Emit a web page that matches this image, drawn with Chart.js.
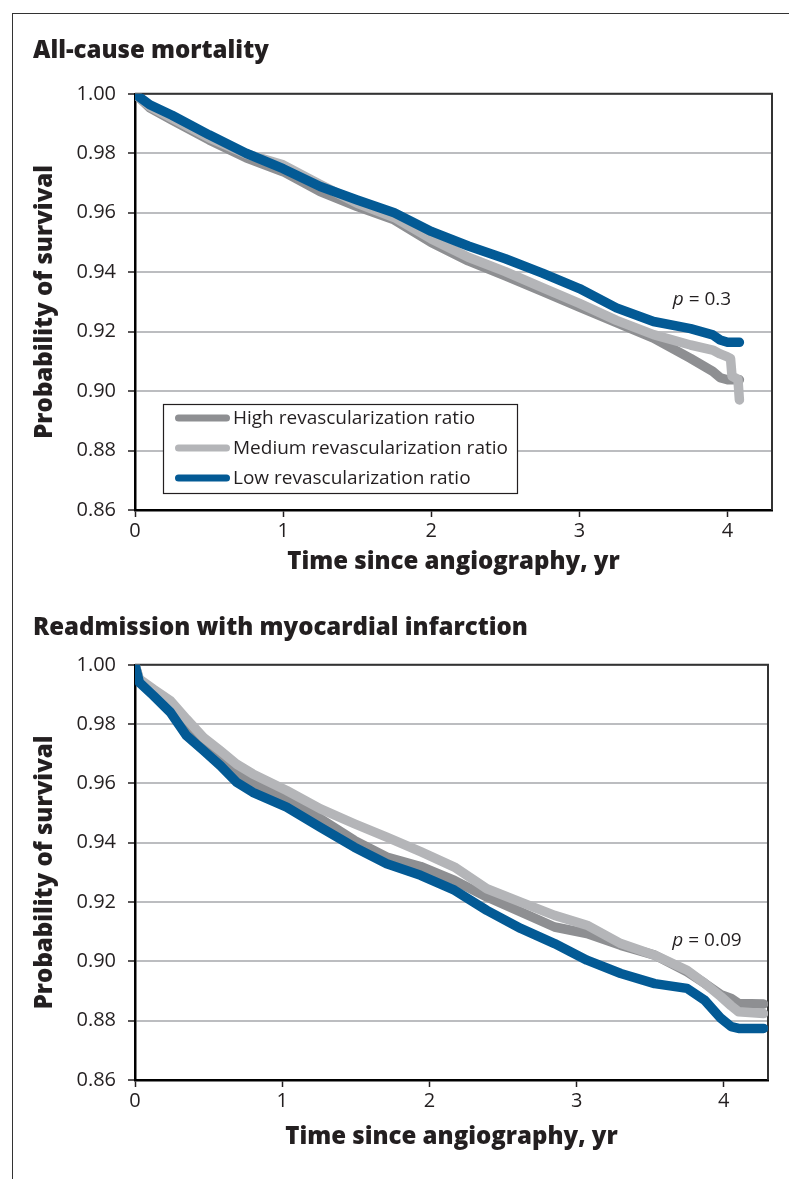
<!DOCTYPE html>
<html>
<head>
<meta charset="utf-8">
<title>Survival by revascularization ratio</title>
<script src="https://cdn.jsdelivr.net/npm/chart.js@4.4.1/dist/chart.umd.min.js"></script>
<style>
  body { margin: 0; background: #fff; }
  #page { position: relative; width: 789px; height: 1179px; overflow: hidden; }
  #frame { position: absolute; left: 12px; top: 13px; right: -10px; bottom: -10px;
           border-left: 1.5px solid #333; border-top: 1.5px solid #333; }
  canvas { position: absolute; left: 0; }
  #mortality { top: 0; }
  #infarction { top: 580px; }
</style>
</head>
<body>
<div id="page">
  <div id="frame"></div>
  <canvas id="mortality" width="789" height="600"></canvas>
  <canvas id="infarction" width="789" height="599"></canvas>
</div>
<script>
// series shared by both panels
const seriesLabels = ['High revascularization ratio', 'Medium revascularization ratio', 'Low revascularization ratio'];
const seriesColors = ['#8e8f92', '#b4b5b8', '#035a95'];

const yTickValues = [0.86, 0.88, 0.90, 0.92, 0.94, 0.96, 0.98, 1.00];
const xTickValues = [0, 1, 2, 3, 4];

// All-cause mortality
const mortTime   = [0, 0.1, 0.25, 0.5, 0.75, 1.0, 1.25, 1.5, 1.75, 2.0, 2.25, 2.5, 2.75, 3.0, 3.25, 3.5, 3.75, 3.9, 3.95, 4.0, 4.02, 4.03, 4.07, 4.08];
const mortHigh   = [1.000, 0.9953, 0.9912, 0.9845, 0.9785, 0.9738, 0.9671, 0.9621, 0.9576, 0.9500, 0.9438, 0.9388, 0.9335, 0.9282, 0.9230, 0.9178, 0.9110, 0.9066, 0.9045, 0.9038, 0.9038, 0.9038, 0.9038, 0.9038];
const mortMedium = [1.000, 0.9957, 0.9918, 0.9852, 0.9798, 0.9761, 0.9695, 0.9632, 0.9584, 0.9512, 0.9450, 0.9402, 0.9348, 0.9295, 0.9238, 0.9190, 0.9155, 0.9138, 0.9125, 0.9115, 0.9110, 0.9050, 0.9040, 0.8970];
const mortLow    = [1.000, 0.9963, 0.9928, 0.9862, 0.9800, 0.9748, 0.9688, 0.9643, 0.9600, 0.9537, 0.9488, 0.9445, 0.9397, 0.9345, 0.9280, 0.9234, 0.9210, 0.9189, 0.9172, 0.9164, 0.9164, 0.9164, 0.9164, 0.9164];

// Readmission with myocardial infarction
const miTime   = [0, 0.03, 0.125, 0.24, 0.35, 0.465, 0.58, 0.69, 0.8, 1.03, 1.26, 1.49, 1.71, 1.94, 2.17, 2.39, 2.62, 2.85, 3.07, 3.3, 3.53, 3.75, 3.87, 3.98, 4.05, 4.1, 4.27];
const miHigh   = [1.000, 0.9948, 0.9912, 0.9862, 0.9784, 0.9735, 0.9688, 0.9640, 0.9599, 0.9548, 0.9481, 0.9408, 0.9352, 0.9320, 0.9273, 0.9217, 0.9167, 0.9116, 0.9094, 0.9054, 0.9021, 0.8965, 0.8926, 0.8888, 0.8875, 0.8858, 0.8856];
const miMedium = [1.000, 0.9952, 0.9918, 0.9879, 0.9817, 0.9755, 0.9710, 0.9665, 0.9632, 0.9576, 0.9514, 0.9464, 0.9419, 0.9370, 0.9318, 0.9245, 0.9200, 0.9155, 0.9122, 0.9060, 0.9021, 0.8970, 0.8926, 0.8881, 0.8850, 0.8830, 0.8824];
const miLow    = [1.000, 0.9940, 0.9896, 0.9840, 0.9761, 0.9711, 0.9660, 0.9604, 0.9570, 0.9520, 0.9452, 0.9385, 0.9329, 0.9290, 0.9240, 0.9172, 0.9111, 0.9060, 0.9004, 0.8959, 0.8925, 0.8909, 0.8869, 0.8808, 0.8780, 0.8774, 0.8774];

const textColor = '#231f20';
Chart.defaults.font.family = '"Open Sans", sans-serif';
Chart.defaults.color = textColor;

const headFont = { size: 24, weight: '800' };
const tickFont = { size: 20 };

// dark top and right edges of the plot box
const frameLines = {
  id: 'frameLines',
  beforeDatasetsDraw(chart) {
    const { ctx, chartArea: a } = chart;
    ctx.save();
    ctx.strokeStyle = '#333';
    ctx.lineWidth = 2;
    ctx.beginPath();
    ctx.moveTo(a.left, a.top);
    ctx.lineTo(a.right, a.top);
    ctx.lineTo(a.right, a.bottom);
    ctx.stroke();
    ctx.restore();
  }
};

// legend in a box inside the plot
const boxedLegend = {
  id: 'boxedLegend',
  afterDatasetsDraw(chart, args, opts) {
    if (!opts.display) return;
    const { ctx, chartArea } = chart;
    const w = 354, h = 89, rowH = 30;
    const left = chartArea.left + 28;
    const top = chartArea.bottom - 17 - h;
    ctx.save();
    ctx.fillStyle = '#fff';
    ctx.fillRect(left, top, w, h);
    ctx.strokeStyle = textColor;
    ctx.lineWidth = 1.2;
    ctx.strokeRect(left + 0.5, top + 0.5, w, h);
    ctx.font = '19px "Open Sans"';
    ctx.textBaseline = 'middle';
    chart.data.datasets.forEach((ds, i) => {
      const y = top + 14 + i * rowH;
      ctx.beginPath();
      ctx.moveTo(left + 15.5, y);
      ctx.lineTo(left + 63.5, y);
      ctx.strokeStyle = ds.borderColor;
      ctx.lineWidth = 7;
      ctx.lineCap = 'round';
      ctx.stroke();
      ctx.fillStyle = textColor;
      ctx.fillText(ds.label, left + 70, y + 1);
    });
    ctx.restore();
  }
};

// "p = ..." note placed in data coordinates
const pLabel = {
  id: 'pLabel',
  afterDatasetsDraw(chart, args, opts) {
    const { ctx, scales } = chart;
    const x = scales.x.getPixelForValue(opts.x);
    const y = scales.y.getPixelForValue(opts.y);
    ctx.save();
    ctx.fillStyle = textColor;
    ctx.textBaseline = 'middle';
    ctx.font = 'italic 19px "Open Sans"';
    ctx.fillText('p', x, y);
    const pw = ctx.measureText('p').width;
    ctx.font = '19px "Open Sans"';
    ctx.fillText(' = ' + opts.text, x + pw, y);
    ctx.restore();
  }
};

function makeChart(id, cfg) {
  const datasets = [cfg.high, cfg.medium, cfg.low].map((vals, i) => ({
    label: seriesLabels[i],
    data: vals.map((v, j) => ({ x: cfg.time[j], y: v })),
    borderColor: seriesColors[i],
    backgroundColor: seriesColors[i],
    borderWidth: 9.5,
    borderCapStyle: 'round',
    borderJoinStyle: 'round',
    pointRadius: 0,
    tension: 0,
    order: 3 - i
  }));

  return new Chart(document.getElementById(id), {
    type: 'line',
    data: { datasets },
    options: {
      responsive: false,
      animation: false,
      layout: { padding: { left: 33, right: cfg.padRight, top: cfg.padTop, bottom: 0 } },
      plugins: {
        legend: { display: false },
        tooltip: { enabled: false },
        title: {
          display: true,
          text: cfg.title,
          align: 'start',
          color: textColor,
          font: headFont,
          padding: { top: 0, bottom: cfg.titleGap }
        },
        boxedLegend: { display: cfg.showLegend },
        pLabel: { text: cfg.pValue, x: cfg.pAt[0], y: cfg.pAt[1] }
      },
      scales: {
        x: {
          type: 'linear',
          min: 0,
          max: 4.3,
          afterFit: s => { s.height = cfg.xAxisHeight; },
          afterBuildTicks: s => { s.ticks = xTickValues.map(v => ({ value: v })); },
          grid: { drawOnChartArea: false, tickLength: 7, tickColor: textColor, tickWidth: 1.5 },
          border: { color: '#000', width: 2.5 },
          ticks: { color: textColor, font: tickFont, padding: 2, callback: v => String(v) },
          title: {
            display: true,
            text: 'Time since angiography, yr',
            color: textColor,
            font: headFont,
            padding: { top: 0, bottom: cfg.xTitleGap }
          }
        },
        y: {
          min: 0.86,
          max: 1.0,
          afterFit: s => { s.width = 102; },
          afterBuildTicks: s => { s.ticks = yTickValues.map(v => ({ value: v })); },
          grid: { color: '#bcbdc0', lineWidth: 2, tickLength: 7, tickColor: textColor, tickWidth: 1.5 },
          border: { color: '#000', width: 2.5 },
          ticks: { color: textColor, font: tickFont, padding: 12, callback: v => v.toFixed(2) },
          title: {
            display: true,
            text: 'Probability of survival',
            color: textColor,
            font: headFont,
            padding: { top: -2, bottom: 0 }
          }
        }
      }
    },
    plugins: [frameLines, boxedLegend, pLabel]
  });
}

makeChart('mortality', {
  title: 'All-cause mortality',
  time: mortTime, high: mortHigh, medium: mortMedium, low: mortLow,
  padTop: 37, titleGap: 28, padRight: 17,
  xAxisHeight: 90, xTitleGap: 23,
  showLegend: true,
  pValue: '0.3', pAt: [3.63, 0.9307]
});

makeChart('infarction', {
  title: 'Readmission with myocardial infarction',
  time: miTime, high: miHigh, medium: miMedium, low: miLow,
  padTop: 34, titleGap: 22, padRight: 21,
  xAxisHeight: 99, xTitleGap: 27,
  showLegend: false,
  pValue: '0.09', pAt: [3.65, 0.9071]
});
</script>
</body>
</html>
